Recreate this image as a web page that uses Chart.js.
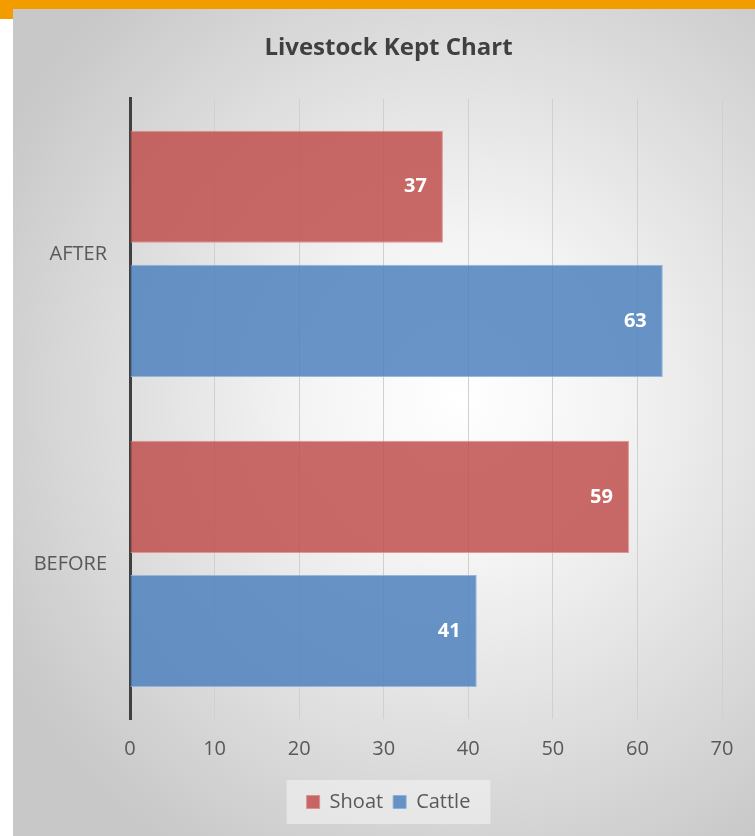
<!DOCTYPE html>
<html>
<head>
<meta charset="utf-8">
<title>Livestock Kept Chart</title>
<script src="https://cdn.jsdelivr.net/npm/chart.js@4.4.1/dist/chart.umd.min.js"></script>
<style>
  html, body { margin: 0; padding: 0; background: #fff; }
  body { width: 755px; height: 836px; position: relative; overflow: hidden; }
  .topbar { position: absolute; left: 0; top: 0; width: 755px; height: 9px; background: #f39c00; }
  .corner { position: absolute; left: 0; top: 9px; width: 13px; height: 10px; background: #f39c00; }
  .panel {
    position: absolute; left: 13px; top: 9px; width: 742px; height: 827px;
    background: radial-gradient(ellipse 70% 65% at 60% 47%, #ffffff 0%, #f4f4f4 30%, #dedede 65%, #c8c8c8 100%);
  }
  .panel canvas { display: block; }
</style>
</head>
<body>
<div class="topbar"></div>
<div class="corner"></div>
<div class="panel">
  <canvas id="livestock" width="742" height="827"></canvas>
</div>
<script>
const categories = ['AFTER', 'BEFORE'];
const shoat = [37, 59];
const cattle = [63, 41];
const xTicks = [0, 10, 20, 30, 40, 50, 60, 70];

Chart.defaults.font.family = "'Open Sans', 'Noto Sans', sans-serif";
Chart.defaults.color = '#595959';

// white value labels at the inner end of each bar
const barValues = {
    id: 'barValues',
    afterDatasetsDraw(chart) {
        const ctx = chart.ctx;
        ctx.save();
        ctx.font = "bold 20px 'Open Sans', sans-serif";
        ctx.fillStyle = '#ffffff';
        ctx.textAlign = 'right';
        ctx.textBaseline = 'middle';
        chart.data.datasets.forEach(function (ds, i) {
            chart.getDatasetMeta(i).data.forEach(function (bar, j) {
                ctx.fillText(String(ds.data[j]), bar.x - 16, bar.y);
            });
        });
        ctx.restore();
    }
};

// title and legend sit centred on the whole panel, not on the axis box
const shiftBlocks = {
    id: 'shiftBlocks',
    afterLayout(chart) {
        const dx = 21;
        [chart.titleBlock, chart.legend].forEach(function (b) {
            if (b) { b.left += dx; b.right += dx; }
        });
        if (chart.legend && chart.legend.legendHitBoxes) {
            chart.legend.legendHitBoxes.forEach(function (h) { h.left += dx; });
        }
    }
};

// light box behind the legend items
const legendBox = {
    id: 'legendBox',
    beforeDraw(chart) {
        const boxes = chart.legend && chart.legend.legendHitBoxes;
        if (!boxes || !boxes.length) return;
        let left = Infinity, right = -Infinity, top = Infinity, bottom = -Infinity;
        boxes.forEach(function (b) {
            left = Math.min(left, b.left);
            right = Math.max(right, b.left + b.width);
            top = Math.min(top, b.top);
            bottom = Math.max(bottom, b.top + b.height);
        });
        const ctx = chart.ctx;
        ctx.save();
        ctx.fillStyle = 'rgba(245, 245, 245, 0.55)';
        ctx.fillRect(left - 20, top - 12, right - left + 40, bottom - top + 24);
        ctx.restore();
    }
};

new Chart(document.getElementById('livestock').getContext('2d'), {
    type: 'bar',
    data: {
        labels: categories,
        datasets: [
            {
                label: 'Shoat',
                data: shoat,
                backgroundColor: 'rgba(192, 80, 77, 0.85)',
                borderColor: 'rgba(225, 140, 136, 0.9)',
                borderWidth: 1
            },
            {
                label: 'Cattle',
                data: cattle,
                backgroundColor: 'rgba(79, 129, 189, 0.85)',
                borderColor: 'rgba(140, 176, 220, 0.9)',
                borderWidth: 1
            }
        ]
    },
    options: {
        indexAxis: 'y',
        responsive: false,
        animation: false,
        categoryPercentage: 0.865,
        barPercentage: 0.836,
        layout: {
            padding: {left: 0, right: 33, top: 0, bottom: 14}
        },
        scales: {
            x: {
                min: 0,
                max: 70,
                afterBuildTicks(scale) {
                    scale.ticks = xTicks.map(function (v) { return {value: v}; });
                },
                afterFit(scale) { scale.height = 63; },
                grid: {
                    color: function (c) { return c.index === 0 ? 'rgba(0,0,0,0)' : '#d0d0d0'; },
                    lineWidth: 1,
                    drawTicks: false
                },
                border: {display: false},
                ticks: {
                    padding: 18,
                    font: {size: 20},
                    color: '#595959'
                }
            },
            y: {
                afterFit(scale) { scale.width = 117; },
                grid: {display: false, drawTicks: false},
                border: {display: true, color: '#404040', width: 3},
                ticks: {
                    padding: 23,
                    font: {size: 20},
                    color: '#595959'
                }
            }
        },
        plugins: {
            title: {
                display: true,
                text: 'Livestock Kept Chart',
                color: '#404040',
                font: {size: 24, weight: 'bold'},
                padding: {top: 25, bottom: 36}
            },
            legend: {
                position: 'bottom',
                labels: {
                    boxWidth: 13,
                    boxHeight: 13,
                    padding: 10,
                    color: '#595959',
                    font: {size: 20}
                }
            },
            tooltip: {enabled: false}
        }
    },
    plugins: [shiftBlocks, barValues, legendBox]
});
</script>
</body>
</html>
